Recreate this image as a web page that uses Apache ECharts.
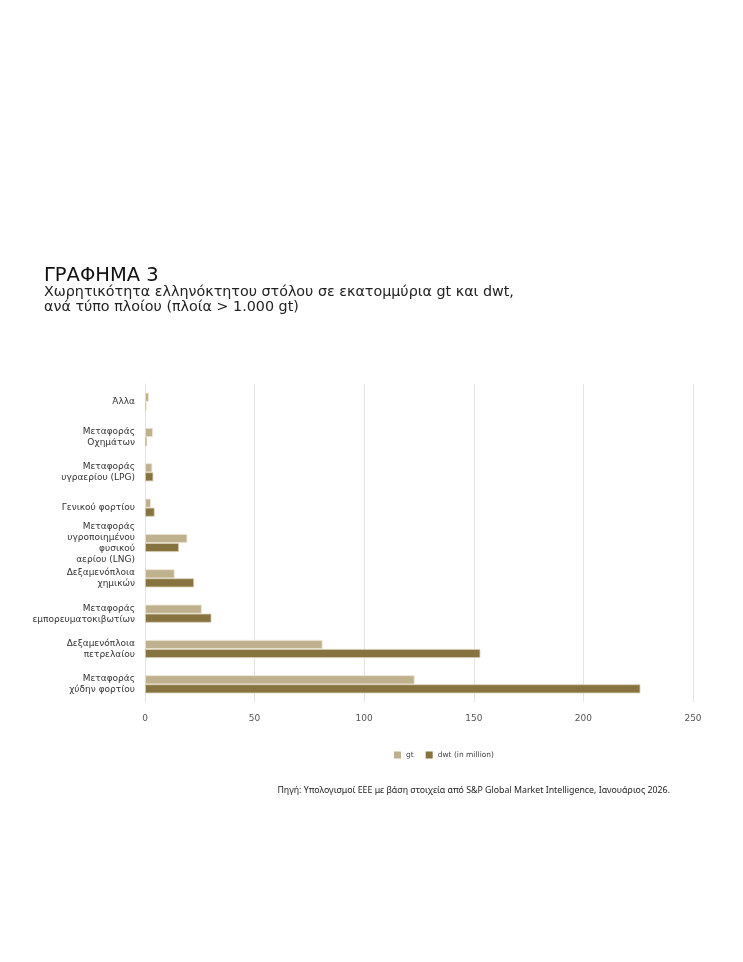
<!DOCTYPE html>
<html>
<head>
<meta charset="utf-8">
<script src="https://cdn.jsdelivr.net/npm/echarts@6/dist/echarts.min.js"></script>
<style>
  html, body { margin: 0; padding: 0; background: #fff; }
  #chart { width: 743px; height: 962px; }
</style>
</head>
<body>
<div id="chart"></div>
<script>
// ship types, top to bottom
const categories = [
  'Άλλα',
  'Μεταφοράς\nΟχημάτων',
  'Μεταφοράς\nυγραερίου (LPG)',
  'Γενικού φορτίου',
  'Μεταφοράς\nυγροποιημένου\nφυσικού\nαερίου (LNG)',
  'Δεξαμενόπλοια\nχημικών',
  'Μεταφοράς\nεμπορευματοκιβωτίων',
  'Δεξαμενόπλοια\nπετρελαίου',
  'Μεταφοράς\nχύδην φορτίου'
];
const gtValues = [1.8, 3.6, 3.3, 2.7, 19.3, 13.5, 25.9, 81, 123];
const dwtValues = [0.6, 0.9, 3.8, 4.4, 15.5, 22.4, 30.3, 153, 226];
const seriesNames = ['gt', 'dwt (in million)'];
const colors = ['#bfb18e', '#86733f'];

const titleText = 'ΓΡΑΦΗΜΑ 3';
const subText = 'Χωρητικότητα ελληνόκτητου στόλου σε εκατομμύρια gt και dwt,\nανά τύπο πλοίου (πλοία > 1.000 gt)';
const sourceText = 'Πηγή: Υπολογισμοί ΕΕΕ με βάση στοιχεία από S&P Global Market Intelligence, Ιανουάριος 2026.';

const chart = echarts.init(document.getElementById('chart'));

const option = {
  backgroundColor: '#fff',
  color: colors,
  title: [{
    text: titleText,
    left: 44,
    top: 266,
    padding: 0,
    textStyle: { fontFamily: 'DejaVu Sans', fontSize: 19.5, fontWeight: 'normal', color: '#111' }
  }, {
    text: subText,
    left: 44,
    top: 285,
    padding: 0,
    textStyle: { fontFamily: 'DejaVu Sans', fontSize: 14.3, fontWeight: 'normal', color: '#222', lineHeight: 15 }
  }, {
    text: sourceText,
    right: 73,
    top: 786,
    padding: 0,
    textStyle: { fontFamily: 'Noto Sans', fontSize: 8.8, fontWeight: 'normal', color: '#222' }
  }],
  legend: {
    data: seriesNames,
    left: 389,
    top: 746,
    itemWidth: 7,
    itemHeight: 7,
    itemGap: 12,
    icon: 'rect',
    itemStyle: { borderWidth: 0 },
    textStyle: { fontFamily: 'DejaVu Sans', fontSize: 7.5, color: '#444' }
  },
  grid: {
    left: 145,
    right: 50,
    top: 384,
    height: 318,
    containLabel: false
  },
  xAxis: {
    type: 'value',
    min: 0,
    max: 250,
    interval: 50,
    axisLine: { show: false },
    axisTick: { show: false },
    axisLabel: { fontFamily: 'DejaVu Sans', fontSize: 9, color: '#555', margin: 12 },
    splitLine: { lineStyle: { color: '#e4e4e4', width: 1 } }
  },
  yAxis: {
    type: 'category',
    inverse: true,
    data: categories,
    axisLine: { show: true, lineStyle: { color: '#e4e4e4' } },
    axisTick: { show: false },
    axisLabel: {
      fontFamily: 'DejaVu Sans',
      fontSize: 9,
      color: '#333',
      lineHeight: 11,
      align: 'right',
      margin: 10
    }
  },
  series: [{
    name: seriesNames[0],
    type: 'bar',
    data: gtValues,
    barWidth: 9,
    barGap: '0%',
    itemStyle: { borderColor: '#ebe5d6', borderWidth: 0.8 }
  }, {
    name: seriesNames[1],
    type: 'bar',
    data: dwtValues,
    barWidth: 9,
    barGap: '0%',
    itemStyle: { borderColor: '#d8cfb6', borderWidth: 0.8 }
  }]
};

chart.setOption(option);
</script>
</body>
</html>
